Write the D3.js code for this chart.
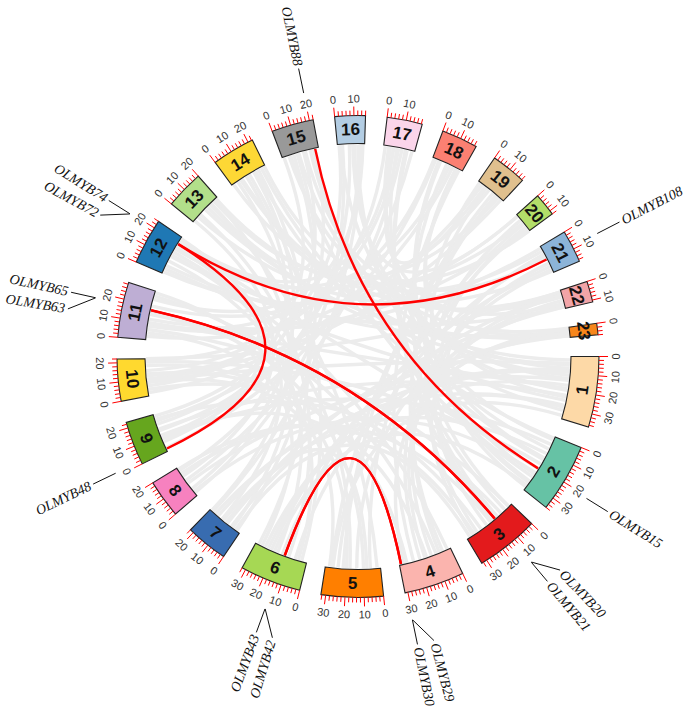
<!DOCTYPE html>
<html><head><meta charset="utf-8">
<script src="https://cdn.jsdelivr.net/npm/d3@7"></script>
<style>body{margin:0;background:#fff}svg{display:block}</style>
</head><body>
<svg id="chart" width="685" height="710"></svg>
<script>
// ---------------- data ----------------
const chromosomes = ["1","2","3","4","5","6","7","8","9","10","11","12","13","14","15","16","17","18","19","20","21","22","23"];
const chromLengths = [37,36,33,31.5,32.5,32,22,20,23,22,29,24,20,22.5,22,16,18.5,19,18.5,12,17,11,6];
const chromColors = ["#fdd9a7","#66c2a5","#e31a1c","#fbb4ae","#ff7f00","#a6d854","#386cb0","#f781bf","#66a61e","#ffd92f",
  "#beaed4","#1f78b4","#b2df8a","#fdd835","#999999","#b3cde3","#fbd5ea","#fb8072","#e0c08e","#b3de69","#8cb4d8","#f2a4a7","#f7861b"];
const minorTickStep = 2;
const majorTickStep = 10;

const geneNames = ["OLMYB15","OLMYB20","OLMYB21","OLMYB29","OLMYB30","OLMYB42","OLMYB43","OLMYB48","OLMYB63","OLMYB65","OLMYB72","OLMYB74","OLMYB88","OLMYB108"];
const geneChroms = ["2","3","3","4","4","6","6","9","11","11","12","12","15","21"];
const genePositions = [21,12.9,13,30.5,30.6,13.4,13.5,1.6,17.4,17.5,19.4,19.5,20,8.5];

const redLinks = [
  ["OLMYB88","OLMYB15"],
  ["OLMYB74","OLMYB108"],
  ["OLMYB72","OLMYB48"],
  ["OLMYB65","OLMYB20"],
  ["OLMYB63","OLMYB21"],
  ["OLMYB43","OLMYB29"],
  ["OLMYB42","OLMYB30"]
];

// gray collinear links: [chrA, posA, chrB, posB]
const grayLinks = [
  [1,2,14,6],[1,5,13,12],[1,8,7,6],[1,11,15,17],[1,14,8,9],[1,17,6,26],[1,20,17,4],[1,23,9,14],[1,26,12,3],[1,29,7,18],[1,32,14,20],[1,35,5,28],[1,13,16,10],[1,24,18,15],
  [2,2,17,8],[2,5,9,8],[2,8,16,12],[2,11,7,12],[2,14,18,4],[2,18,10,20],[2,24,8,3],[2,27,15,5],[2,30,19,6],[2,33,6,20],[2,34,20,9],
  [3,2,11,6],[3,5,17,13],[3,8,9,20],[3,11,18,9],[3,16,8,16],[3,19,21,11],[3,23,10,4],[3,26,20,4],[3,29,22,6],[3,31,7,3],
  [4,2,12,14],[4,5,19,13],[4,9,11,26],[4,12,22,3],[4,15,9,10],[4,19,21,15],[4,23,18,17],[4,27,10,13],[4,29,23,2],
  [5,2,13,15],[5,6,20,7],[5,10,11,17],[5,14,22,9],[5,18,12,17],[5,22,19,11],[5,25,21,6],[5,30,10,8],
  [6,3,14,12],[6,7,23,4],[6,11,13,6],[6,15,21,13],[6,18,12,8],[6,22,22,2],[6,24,1,9],[6,28,11,4],[6,30,14,18],
  [7,2,15,7],[7,5,13,18],[7,9,22,10],[7,13,12,23],[7,16,23,5],[7,20,16,14],[7,21,14,4],
  [8,2,16,3],[8,5,14,15],[8,11,17,11],[8,14,13,1],[8,18,15,20],[8,19,3,28],
  [9,2,17,17],[9,6,16,7],[9,17,14,10],[9,19,18,2],[9,22,15,13],
  [10,2,18,13],[10,6,15,1],[10,10,19,17],[10,15,16,1],[10,18,5,20],[10,21,17,1],
  [11,2,19,3],[11,8,20,11],[11,12,21,1],[11,20,18,1],[11,24,16,15],[11,28,6,5],
  [12,1,20,1],[12,5,22,10],[12,11,23,2],[12,20,19,8],[12,22,17,6],
  [13,4,21,16],[13,10,23,5],[13,17,19,15],[13,19,20,6],
  [14,1,21,3],[14,7,22,1],[14,16,2,1],[14,22,20,12],
  [15,4,22,4],[15,10,23,0.5],[15,19,2,15],[15,14,21,8],
  [16,2,1,7],[16,9,20,1],[16,13,9,9],
  [17,3,22,8],[17,9,11,9],[17,14,3,15],
  [18,5,2,25],[18,11,12,16],[18,16,23,3],
  [19,1,3,2],[19,14,5,29],
  [20,10,4,7],[21,5,2,31],[22,1,10,22],[23,1,4,16],
  [1,4,10,9],[1,19,11,10],[2,21,12,19],
  [3,13,1,30],[5,8,7,10],[9,13,11,15],[13,14,15,9],[17,6,19,5],[10,12,12,12]
];

// ---------------- layout ----------------
const cx = 358, cy = 356.5;
const rIn = 213, rOut = 241;
const gapDeg = 5.16, startDeg = 90;
const totalLen = d3.sum(chromLengths);
const degPerMb = (360 - gapDeg * chromosomes.length) / totalLen;

const chromStart = [];
let acc = startDeg;
chromLengths.forEach((L, i) => { chromStart.push(acc); acc += L * degPerMb + gapDeg; });

const scales = {};
chromosomes.forEach((c, i) => {
  scales[c] = d3.scaleLinear().domain([0, chromLengths[i]])
    .range([chromStart[i], chromStart[i] + chromLengths[i] * degPerMb].map(d => d * Math.PI / 180));
});

const toRad = d => d * Math.PI / 180;
const pt = (r, a) => [cx + r * Math.sin(a), cy - r * Math.cos(a)];
const norm = d => ((d % 360) + 360) % 360;
const flipRot = (deg, refDeg) => { const n = norm(refDeg); return (n > 90 && n < 270) ? deg - 180 : deg; };

const svg = d3.select("#chart");
const g = svg.append("g");

// ---------------- links ----------------
function linkPath(a1, a2, r) {
  const p = d3.path();
  const p1 = pt(r, a1), p2 = pt(r, a2);
  p.moveTo(p1[0], p1[1]);
  p.quadraticCurveTo(cx, cy, p2[0], p2[1]);
  return p.toString();
}

g.append("g").selectAll("path").data(grayLinks).join("path")
  .attr("d", d => linkPath(scales[String(d[0])](d[1]), scales[String(d[2])](d[3]), rIn - 1))
  .attr("fill", "none").attr("stroke", "#ececec").attr("stroke-width", 3.4);

const geneAngle = {};
geneNames.forEach((n, i) => { geneAngle[n] = scales[geneChroms[i]](genePositions[i]); });

g.append("g").selectAll("path").data(redLinks).join("path")
  .attr("d", d => linkPath(geneAngle[d[0]], geneAngle[d[1]], rIn - 1))
  .attr("fill", "none").attr("stroke", "#ff0000").attr("stroke-width", 2.4);

// ---------------- chromosome blocks ----------------
const arc = d3.arc().innerRadius(rIn).outerRadius(rOut);
const blocks = g.append("g").selectAll("g").data(chromosomes).join("g");
blocks.append("path")
  .attr("transform", `translate(${cx},${cy})`)
  .attr("d", c => arc({ startAngle: scales[c].range()[0], endAngle: scales[c].range()[1] }))
  .attr("fill", (c, i) => chromColors[i]).attr("stroke", "#222").attr("stroke-width", 1.1);

blocks.append("text")
  .attr("transform", c => {
    const r = scales[c].range(); const a = (r[0] + r[1]) / 2; const p = pt((rIn + rOut) / 2, a);
    const deg = a * 180 / Math.PI;
    return `translate(${p[0]},${p[1]}) rotate(${flipRot(deg, deg)})`;
  })
  .attr("text-anchor", "middle").attr("dominant-baseline", "central")
  .attr("font-family", "Liberation Sans, Arial, sans-serif").attr("font-weight", "bold")
  .attr("font-size", 17).attr("fill", "#111").text(c => c);

// ---------------- ticks ----------------
const tickG = g.append("g");
chromosomes.forEach((c, i) => {
  const ticks = d3.range(0, chromLengths[i] + 0.001, minorTickStep);
  const rr = scales[c].range(); const midDeg = (rr[0] + rr[1]) / 2 * 180 / Math.PI;
  ticks.forEach(t => {
    const a = scales[c](t);
    const major = t % majorTickStep === 0;
    const p1 = pt(rOut, a), p2 = pt(rOut + (major ? 9 : 5), a);
    tickG.append("line").attr("x1", p1[0]).attr("y1", p1[1]).attr("x2", p2[0]).attr("y2", p2[1])
      .attr("stroke", "#ff0000").attr("stroke-width", 1);
    if (major) {
      const p = pt(258, a); const deg = a * 180 / Math.PI;
      tickG.append("text")
        .attr("transform", `translate(${p[0]},${p[1]}) rotate(${flipRot(deg, midDeg)})`)
        .attr("text-anchor", "middle").attr("dominant-baseline", "central")
        .attr("font-family", "Liberation Sans, Arial, sans-serif").attr("font-size", 11)
        .attr("fill", "#333").text(t);
    }
  });
});

// ---------------- gene labels ----------------
const labelSep = 3.3;
const order = geneNames.map((n, i) => i).sort((a, b) => geneAngle[geneNames[a]] - geneAngle[geneNames[b]]);
const labelDeg = {};
for (let k = order.length - 1; k >= 0; k--) {
  const n = geneNames[order[k]];
  let d = geneAngle[n] * 180 / Math.PI;
  if (k < order.length - 1) {
    const nextD = labelDeg[geneNames[order[k + 1]]];
    if (nextD - d < labelSep) d = nextD - labelSep;
  }
  labelDeg[n] = d;
}
const labG = g.append("g");
geneNames.forEach(n => {
  const ga = geneAngle[n], la = toRad(labelDeg[n]);
  const p1 = pt(269, ga), p2 = pt(294, la);
  labG.append("line").attr("x1", p1[0]).attr("y1", p1[1]).attr("x2", p2[0]).attr("y2", p2[1])
    .attr("stroke", "#111").attr("stroke-width", 1);
  const deg = labelDeg[n]; const nd = norm(deg);
  const right = nd < 180;
  const p = pt(297, la);
  labG.append("text")
    .attr("transform", `translate(${p[0]},${p[1]}) rotate(${right ? deg - 90 : deg + 90})`)
    .attr("text-anchor", right ? "start" : "end").attr("dominant-baseline", "central")
    .attr("font-family", "Liberation Serif, Times New Roman, serif").attr("font-style", "italic")
    .attr("font-size", 14).attr("fill", "#111").text(n);
});
</script>
</body></html>
